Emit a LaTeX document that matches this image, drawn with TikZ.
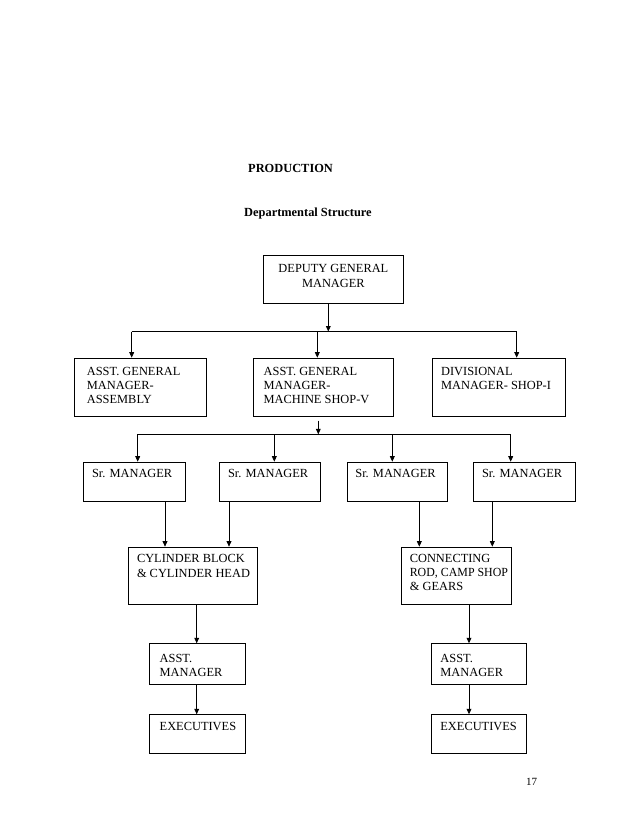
\documentclass[tikz,border=0pt]{standalone}
\usepackage{fontspec}
\setmainfont{Liberation Serif}
\usetikzlibrary{arrows.meta}
% box content: width, height, left pad, top gap, text
\newcommand{\bxt}[5]{\parbox[c][#2pt][t]{#1pt}{\vspace*{#4pt}\leftskip=#3pt\rightskip=0pt plus 1fil\parindent=0pt #5}}
\newcommand{\bxc}[4]{\parbox[c][#2pt][t]{#1pt}{\vspace*{#3pt}\centering #4}}
\begin{document}
\begin{tikzpicture}[x=1pt,y=-1pt,
  font=\fontsize{12.4}{14.3}\selectfont,
  box/.style={draw, line width=0.8pt, inner sep=0pt, anchor=north west},
  ln/.style={line width=0.8pt},
  arr/.style={line width=0.8pt, -{Triangle[length=5.5pt,width=4.8pt]}},
  ttl/.style={font=\fontsize{12.4}{14.3}\selectfont\bfseries, anchor=base west, inner sep=0pt}]
\useasboundingbox (0,0) rectangle (638,826);

% titles
\node[ttl] (t1) at (248,172.3) {PRODUCTION};
\node[ttl] (t2) at (244,216.7) {Departmental Structure};
\node[anchor=base west, inner sep=0pt, font=\fontsize{11}{13}\selectfont] (pg) at (526,785) {17};

% boxes
\node[box] (dgm) at (263,255) {\bxc{140}{48.3}{9.2}{DEPUTY GENERAL\\MANAGER}};
\node[box] (asm) at (74,357.7) {\bxt{132}{58}{12.5}{8.8}{\mbox{ASST. GENERAL}\\MANAGER-\\ASSEMBLY}};
\node[box] (msh) at (253.3,357.7) {\bxt{140}{58}{10}{8.8}{\mbox{ASST. GENERAL}\\MANAGER-\\\mbox{MACHINE SHOP-V}}};
\node[box] (div) at (431.7,357.7) {\bxt{133.3}{58}{9}{8.8}{DIVISIONAL\\\mbox{MANAGER- SHOP-I}}};

\node[box] (sr1) at (83.3,461.7) {\bxt{101.7}{39}{8.3}{7.5}{\mbox{Sr. MANAGER}}};
\node[box] (sr2) at (219.3,461.7) {\bxt{100.7}{39}{8.3}{7.5}{\mbox{Sr. MANAGER}}};
\node[box] (sr3) at (346.7,461.7) {\bxt{100.7}{39}{8.3}{7.5}{\mbox{Sr. MANAGER}}};
\node[box] (sr4) at (473.3,461.7) {\bxt{101.7}{39}{8.3}{7.5}{\mbox{Sr. MANAGER}}};

\node[box] (cyl) at (128.3,546.7) {\bxt{128.4}{57.3}{8.3}{7.5}{\mbox{CYLINDER BLOCK}\\\mbox{\& CYLINDER HEAD}}};
\node[box] (con) at (400.7,546.7) {\bxt{110}{57.3}{8.7}{7}{CONNECTING\\\scalebox{0.96}[1]{ROD, CAMP SHOP}\\\mbox{\& GEARS}}};

\node[box] (am1) at (149.3,643.3) {\bxt{95.7}{41}{10}{10.3}{ASST.\\MANAGER}};
\node[box] (am2) at (431,643.3) {\bxt{95}{41}{9}{10.3}{ASST.\\MANAGER}};
\node[box] (ex1) at (149.3,714.3) {\bxt{95.7}{38.4}{10}{7.6}{EXECUTIVES}};
\node[box] (ex2) at (431,714.3) {\bxt{95}{38.4}{9}{7.6}{EXECUTIVES}};

% first bus
\coordinate (j1) at (328.3,331.5);
\coordinate (b1l) at (131.7,331.5);
\coordinate (b1m) at (317.3,331.5);
\coordinate (b1r) at (516.7,331.5);
\draw[arr] (dgm.south -| j1) -- (j1);
\draw[ln] (b1l) -- (b1r);
\draw[arr] (b1l) -- (asm.north -| b1l);
\draw[arr] (b1m) -- (msh.north -| b1m);
\draw[arr] (b1r) -- (div.north -| b1r);

% second bus
\coordinate (j2) at (318.3,434.3);
\coordinate (b2a) at (137.7,434.3);
\coordinate (b2b) at (274.3,434.3);
\coordinate (b2c) at (392.3,434.3);
\coordinate (b2d) at (510.7,434.3);
\draw[arr] ([yshift=-4pt]msh.south -| j2) -- (j2);
\draw[ln] (b2a) -- (b2d);
\draw[arr] (b2a) -- (sr1.north -| b2a);
\draw[arr] (b2b) -- (sr2.north -| b2b);
\draw[arr] (b2c) -- (sr3.north -| b2c);
\draw[arr] (b2d) -- (sr4.north -| b2d);

% Sr managers to sections
\coordinate (x1) at (165,0);
\coordinate (x2) at (229,0);
\coordinate (x3) at (419.3,0);
\coordinate (x4) at (492.3,0);
\draw[arr] (sr1.south -| x1) -- (cyl.north -| x1);
\draw[arr] (sr2.south -| x2) -- (cyl.north -| x2);
\draw[arr] (sr3.south -| x3) -- (con.north -| x3);
\draw[arr] (sr4.south -| x4) -- (con.north -| x4);

% sections to asst managers and executives
\coordinate (x5) at (196.7,0);
\coordinate (x6) at (469,0);
\draw[arr] (cyl.south -| x5) -- (am1.north -| x5);
\draw[arr] (am1.south -| x5) -- (ex1.north -| x5);
\draw[arr] (con.south -| x6) -- (am2.north -| x6);
\draw[arr] (am2.south -| x6) -- (ex2.north -| x6);
\end{tikzpicture}
\end{document}
